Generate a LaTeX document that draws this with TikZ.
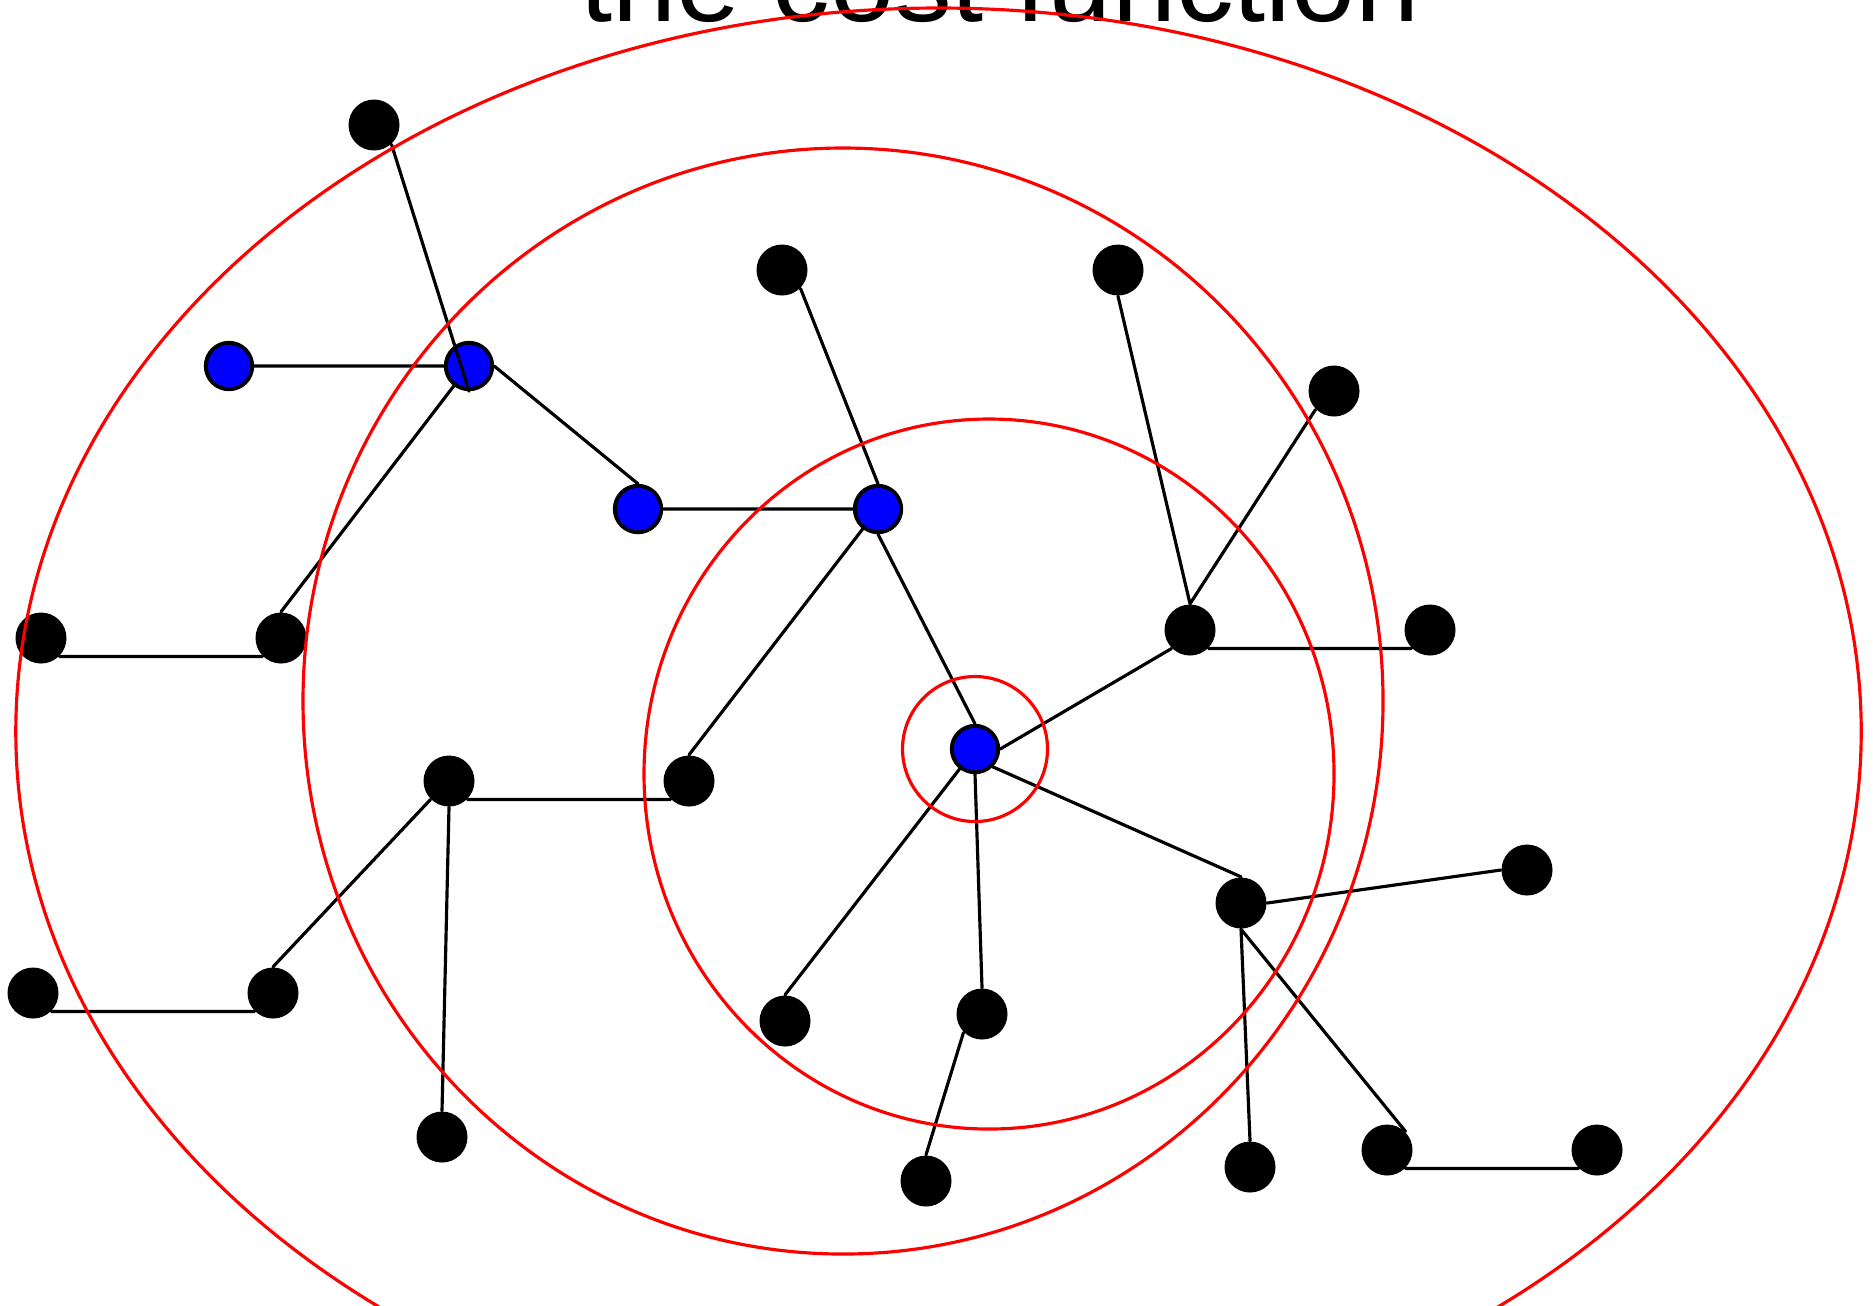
\documentclass[tikz,border=0pt]{standalone}
\usepackage{fontspec}
\newfontfamily\titlefont{Liberation Sans}
\definecolor{ringred}{RGB}{255,0,0}
\definecolor{hubblue}{RGB}{0,0,255}

\begin{document}
\begin{tikzpicture}[x=.1mm,y=-.1mm,line cap=round,line join=round,
  vert/.style={circle,fill=black,inner sep=0pt,minimum size=5.1mm},
  hub/.style={circle,draw=black,line width=1.1pt,fill=hubblue,inner sep=0pt,minimum size=4.65mm},
  link/.style={black,line width=.9pt},
  ring/.style={ringred,line width=.9pt}]
 \useasboundingbox (0,0) rectangle (1873,1305);
 \clip (0,0) rectangle (1873,1305);
 \node[anchor=base,inner sep=0pt,font=\titlefont\fontsize{32.8}{38}\selectfont]
  (title) at (1000,21.5) {the cost function};
 \node[vert] (v1) at (374,125) {};
 \node[vert] (v2) at (782,270) {};
 \node[vert] (v3) at (1118,270) {};
 \node[vert] (v4) at (1334,391) {};
 \node[vert] (v5) at (41,638) {};
 \node[vert] (v6) at (281,638) {};
 \node[vert] (v7) at (1190,630) {};
 \node[vert] (v8) at (1430,630) {};
 \node[vert] (v9) at (449,781) {};
 \node[vert] (v10) at (689,781) {};
 \node[vert] (v11) at (1527,870) {};
 \node[vert] (v12) at (1241,903) {};
 \node[vert] (v13) at (33,993) {};
 \node[vert] (v14) at (273,993) {};
 \node[vert] (v15) at (785,1021) {};
 \node[vert] (v16) at (982,1014) {};
 \node[vert] (v17) at (442,1137) {};
 \node[vert] (v18) at (926,1181) {};
 \node[vert] (v19) at (1250,1167) {};
 \node[vert] (v20) at (1387,1150) {};
 \node[vert] (v21) at (1597,1150) {};
 \node[hub] (h1) at (229,366) {};
 \node[hub] (h2) at (469,366) {};
 \node[hub] (h3) at (638,509) {};
 \node[hub] (h4) at (878,509) {};
 \node[hub] (h5) at (975,749) {};
 \draw[link] (v1.-48) -- (h2.south);
 \draw[link] (h1) -- (h2) (h2) -- (v6.north) (h2.east) -- (h3.north);
 \draw[link] (h3) -- (h4) (v2.south east) -- (h4.north)
  (h4) -- (v10.north) (h4.south) -- (h5.north);
 \draw[link] (v3.south) -- (v7.north) (v4.south west) -- (v7.north)
  (v7.south east) -- (v8.south west) (h5.east) -- (v7.south west);
 \draw[link] (v5.south east) -- (v6.south west) (v9.south east) -- (v10.south west)
  (v9.south west) -- (v14.north) (v9.south) -- (v17.north)
  (v13.south east) -- (v14.south west);
 \draw[link] (h5) -- (v15.north) (h5.south) -- (v16.north)
  (h5.south east) -- (v12.north) (v16.south west) -- (v18.north);
 \draw[link] (v12.east) -- (v11.west) (v12.south) -- (v19.north)
  (v12.south) -- (v20.north east) (v20.south east) -- (v21.south west);
 \draw[ring] (938.5,731.5) ellipse [x radius=922.7,y radius=723.5];
 \draw[ring] (843,701) ellipse [x radius=540,y radius=553];
 \draw[ring] (989,774) ellipse [x radius=345,y radius=355];
 \draw[ring] (h5) circle [radius=72.5];
\end{tikzpicture}
\end{document}
